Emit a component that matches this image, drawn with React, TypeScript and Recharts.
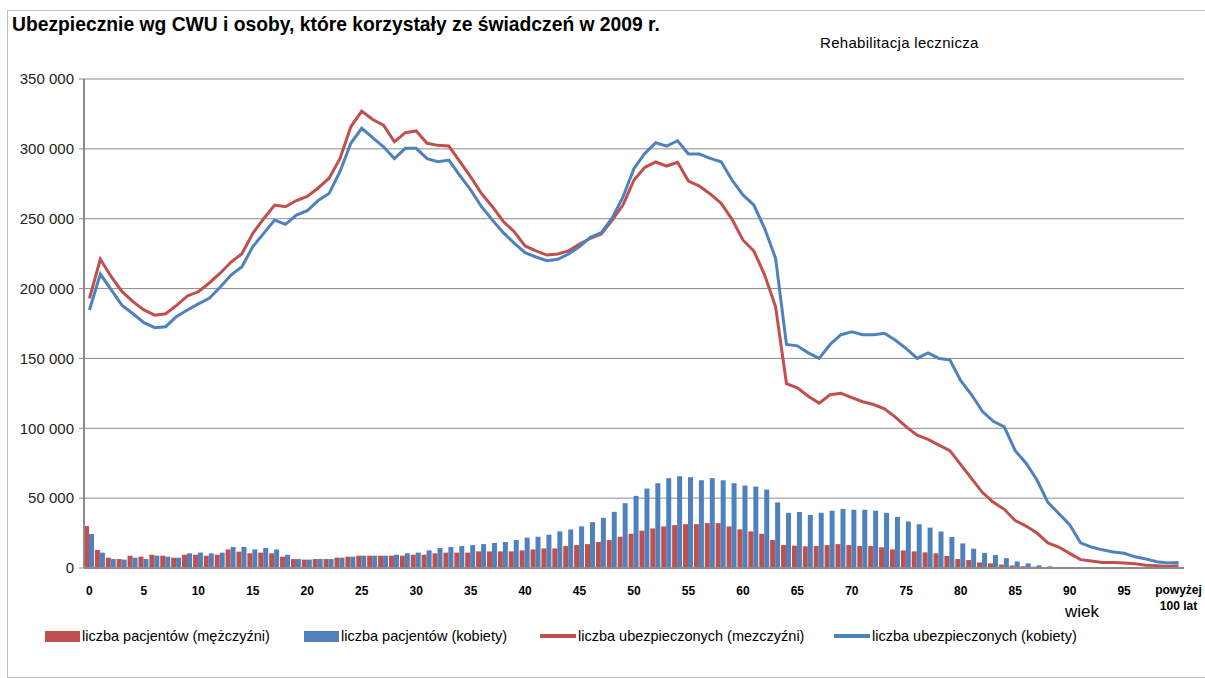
import { ComposedChart, Bar, Line, XAxis, YAxis, CartesianGrid } from 'recharts'

// wiek 0..99 oraz ostatnia grupa
const ages: string[] = Array.from({ length: 100 }, (_, i) => String(i)).concat(['powyżej 100 lat'])

const menPatients = [
  30000, 12900, 7400, 6400, 8800, 8100, 9500, 8800, 7400, 9500,
  9500, 8800, 9500, 13300, 11700, 10500, 11000, 10500, 8100, 6400,
  6000, 6400, 6400, 7400, 8100, 8800, 8800, 8800, 8800, 8800,
  9500, 9500, 10500, 11000, 11000, 11000, 11900, 11900, 11900, 11900,
  12600, 13300, 14000, 14000, 15700, 16400, 17100, 18600, 20000, 22400,
  24500, 26700, 28300, 29800, 30700, 31400, 31400, 32100, 32100, 29800,
  27600, 26200, 24500, 20000, 16400, 16000, 15500, 15700, 16400, 17100,
  16400, 15700, 15700, 14800, 13300, 12600, 11900, 11200, 10500, 8600,
  6400, 5700, 4000, 3300, 2500, 1800, 1300, 900, 600, 400,
  300, 250, 200, 150, 100, 80, 60, 40, 30, 20,
  30,
]

const womenPatients = [
  24300, 11000, 6400, 6000, 7400, 6400, 8800, 8100, 7400, 10500,
  11000, 10500, 11000, 15000, 15000, 13300, 14300, 13300, 9500, 6400,
  6000, 6400, 6400, 7400, 8100, 8800, 8800, 8800, 9500, 10500,
  11000, 12600, 14300, 15000, 15700, 16400, 17100, 17900, 18600, 20000,
  21700, 22400, 23800, 26200, 27600, 29800, 32800, 35900, 40200, 46400,
  51600, 56900, 60700, 64300, 65700, 65000, 62800, 64300, 62800, 60700,
  59000, 58300, 56200, 47000, 39500, 40100, 38000, 39500, 41000, 42300,
  41700, 41700, 41000, 39500, 36600, 33300, 31300, 28900, 26100, 22200,
  17600, 13800, 10800, 9300, 7000, 4700, 3300, 1900, 1200, 700,
  500, 350, 300, 250, 200, 150, 100, 80, 60, 40,
  50,
]

const menInsured = [
  193000, 221000, 208500, 197800, 190600, 184700, 181000, 182000, 188000, 194700,
  197800, 204000, 211000, 219000, 225000, 239500, 250000, 259800, 258600, 263000,
  266000, 272000, 279000, 293000, 315800, 327000, 321000, 317000, 305000, 311600,
  312800, 304000, 302500, 302000, 291000, 280000, 268000, 258600, 248000, 240700,
  230500, 227000, 224000, 224700, 227000, 231900, 236000, 239000, 249000, 260000,
  277700, 286800, 290600, 287700, 290400, 277000, 273400, 267700, 261000, 249600,
  234800, 227000, 209700, 187000, 132000, 129000, 123000, 118000, 124000, 125000,
  122000, 119000, 117000, 114000, 108000, 101000, 95000, 92000, 88000, 84000,
  74000, 64000, 54000, 47000, 42000, 34000, 30000, 25000, 18000, 15000,
  10500, 6000, 5000, 4000, 4000, 3500, 3000, 2000, 1700, 1000,
  1700,
]

const womenInsured = [
  184700, 210400, 199000, 188000, 182000, 175600, 172000, 172700, 180000, 184700,
  189000, 193000, 201000, 209700, 215600, 230000, 239500, 249000, 246000, 252600,
  255700, 263000, 268000, 283600, 304000, 314700, 308000, 301500, 293000, 300400,
  300400, 293000, 290800, 292000, 281000, 270600, 258600, 249000, 240000, 232600,
  225700, 222600, 220000, 221000, 224700, 230000, 236700, 240000, 250500, 265800,
  286000, 296800, 304400, 302000, 305800, 296300, 296300, 293200, 290800, 277700,
  267000, 259800, 243000, 221700, 160000, 159000, 154000, 150000, 160000, 167000,
  169000, 167000, 167000, 168000, 163000, 157000, 150000, 154000, 150000, 149000,
  134000, 124000, 112000, 105000, 101000, 84000, 75000, 63000, 47000, 39000,
  31000, 18000, 15000, 13000, 11500, 10500, 8000, 6500, 4500, 3500,
  4000,
]

const yTicks = [0, 50000, 100000, 150000, 200000, 250000, 300000, 350000]

const RED = '#C0504D'
const BLUE = '#4F81BD'

const data = ages.map((age, i) => ({
  age,
  menPatients: menPatients[i],
  womenPatients: womenPatients[i],
  menInsured: menInsured[i],
  womenInsured: womenInsured[i],
}))

const fmt = (v: number) => String(v).replace(/\B(?=(\d{3})+(?!\d))/g, ' ')

const AgeTick = (props: any) => {
  const { x, y, payload } = props
  const label: string = payload.value
  if (label.startsWith('powyżej')) {
    return (
      <text x={x} y={y} textAnchor="middle" fontSize={12} fontWeight="bold" fill="#000" fontFamily="'Liberation Sans', Arial, sans-serif">
        <tspan x={x} dy={24}>powyżej</tspan>
        <tspan x={x} dy={16}>100 lat</tspan>
      </text>
    )
  }
  return (
    <text x={x} y={y} dy={25} textAnchor="middle" fontSize={12} fontWeight="bold" fill="#000" fontFamily="'Liberation Sans', Arial, sans-serif">
      {label}
    </text>
  )
}

const legendItems = [
  { label: 'liczba pacjentów (mężczyźni)', color: RED, kind: 'box', left: 45 },
  { label: 'liczba pacjentów (kobiety)', color: BLUE, kind: 'box', left: 304 },
  { label: 'liczba ubezpieczonych (mezczyźni)', color: RED, kind: 'line', left: 540 },
  { label: 'liczba ubezpieczonych (kobiety)', color: BLUE, kind: 'line', left: 834 },
]

export default function App() {
  return (
    <div style={{ position: 'absolute', left: 0, top: 0, width: 1205, height: 678, background: '#fff', fontFamily: "'Liberation Sans', Arial, sans-serif" }}>
      <div style={{ position: 'absolute', left: 7, top: 10, width: 1210, height: 666, border: '1px solid #bfbfbf' }} />
      <div style={{ position: 'absolute', left: 0, top: 0 }}>
        <ComposedChart
          width={1205}
          height={678}
          data={data}
          margin={{ top: 79, right: 21, bottom: 80, left: 0 }}
          barGap={0}
          barCategoryGap={0}
        >
          <CartesianGrid vertical={false} stroke="#8c8c8c" strokeWidth={1} />
          <XAxis
            dataKey="age"
            interval={4}
            tick={<AgeTick />}
            tickLine={false}
            tickSize={0}
            axisLine={{ stroke: '#8c8c8c', strokeWidth: 2 }}
            height={30}
          />
          <YAxis
            domain={[0, 350000]}
            ticks={yTicks}
            tickFormatter={fmt}
            width={84}
            tickSize={5}
            tickMargin={5}
            tick={{ fill: '#222', fontSize: 15 }}
            tickLine={{ stroke: '#8c8c8c' }}
            axisLine={{ stroke: '#8c8c8c', strokeWidth: 2 }}
          />
          <Bar dataKey="menPatients" fill={RED} isAnimationActive={false} />
          <Bar dataKey="womenPatients" fill={BLUE} isAnimationActive={false} />
          <Line dataKey="menInsured" type="linear" stroke={RED} strokeWidth={3} dot={false} isAnimationActive={false} />
          <Line dataKey="womenInsured" type="linear" stroke={BLUE} strokeWidth={3} dot={false} isAnimationActive={false} />
        </ComposedChart>
      </div>
      <div style={{ position: 'absolute', left: 12, top: 14, fontSize: 19.3, fontWeight: 'bold', color: '#000', whiteSpace: 'nowrap' }}>
        Ubezpiecznie wg CWU i osoby, które korzystały ze świadczeń w 2009 r.
      </div>
      <div style={{ position: 'absolute', left: 820, top: 34, fontSize: 15, letterSpacing: 0.3, color: '#000' }}>Rehabilitacja lecznicza</div>
      <div style={{ position: 'absolute', left: 1065, top: 602, fontSize: 17, color: '#000' }}>wiek</div>
      {legendItems.map((it) => (
        <div key={it.label} style={{ position: 'absolute', left: it.left, top: 627, height: 18, display: 'flex', alignItems: 'center', fontSize: 14.5, color: '#000', whiteSpace: 'nowrap' }}>
          {it.kind === 'box' ? (
            <span style={{ display: 'inline-block', width: 35, height: 11, background: it.color }} />
          ) : (
            <span style={{ display: 'inline-block', width: 36, height: 4, background: it.color }} />
          )}
          <span style={{ marginLeft: 2 }}>{it.label}</span>
        </div>
      ))}
    </div>
  )
}
